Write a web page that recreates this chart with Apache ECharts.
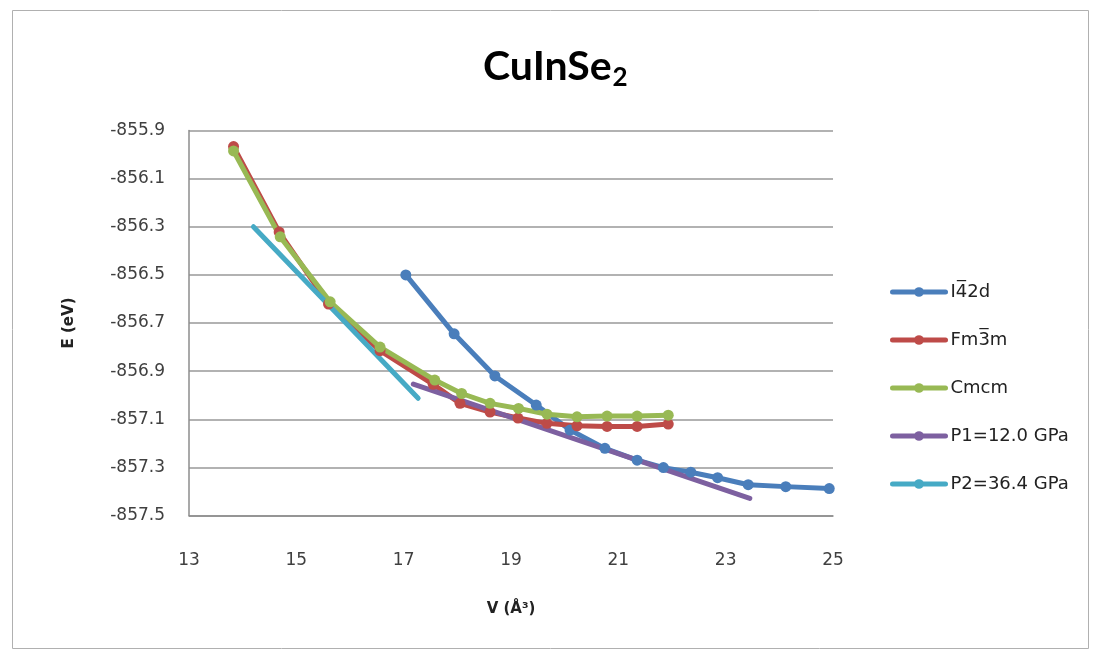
<!DOCTYPE html>
<html><head><meta charset="utf-8">
<script src="https://cdn.jsdelivr.net/npm/echarts@6/dist/echarts.min.js"></script>
<style>html,body{margin:0;padding:0;background:#fff}#c{width:1094px;height:654px}</style>
</head><body><div id="c"></div>
<script>
// ---- data ----
const seriesNames = ['I4\u03052d', 'Fm3\u0305m', 'Cmcm', 'P1=12.0 GPa', 'P2=36.4 GPa'];
const i42dV = [17.04, 17.94, 18.70, 19.47, 20.10, 20.75, 21.35, 21.84, 22.35, 22.85, 23.42, 24.12, 24.93];
const i42dE = [-856.500, -856.745, -856.920, -857.041, -857.145, -857.221, -857.270, -857.301, -857.320, -857.343, -857.372, -857.380, -857.388];
const fm3mV = [13.83, 14.68, 15.60, 16.56, 17.55, 18.05, 18.61, 19.13, 19.67, 20.23, 20.79, 21.35, 21.93];
const fm3mE = [-855.967, -856.322, -856.621, -856.815, -856.955, -857.034, -857.070, -857.095, -857.117, -857.127, -857.130, -857.130, -857.120];
const cmcmV = [13.83, 14.70, 15.63, 16.56, 17.58, 18.08, 18.61, 19.14, 19.67, 20.23, 20.79, 21.35, 21.93];
const cmcmE = [-855.985, -856.342, -856.612, -856.800, -856.937, -856.993, -857.034, -857.055, -857.079, -857.090, -857.087, -857.087, -857.083];
const p1V = [17.18, 23.45];
const p1E = [-856.954, -857.429];
const p2V = [14.20, 17.27];
const p2E = [-856.300, -857.013];
const xTicks = {min: 13, max: 25, step: 2};
const yTicks = {min: -857.5, max: -855.9, step: 0.2};

const colors = ['#4A7EBB', '#BE4B48', '#98B954', '#7D60A0', '#46AAC5'];
const zip = (a, b) => a.map((v, i) => [v, b[i]]);
const labelFont = {fontFamily: 'DejaVu Sans', fontSize: 17, color: '#404040'};

const chart = echarts.init(document.getElementById('c'), null, {renderer: 'canvas'});
const markerSeries = (name, data, color) => ({
  name, type: 'line', data, showSymbol: true, symbol: 'circle', symbolSize: 11,
  lineStyle: {width: 5, color, cap: 'round', join: 'round'}, itemStyle: {color}, animation: false
});
const lineSeries = (name, data, color) => ({
  name, type: 'line', data, showSymbol: false, symbol: 'none',
  lineStyle: {width: 5, color, cap: 'round'}, itemStyle: {color}, animation: false
});

chart.setOption({
  backgroundColor: '#fff',
  animation: false,
  color: colors,
  title: {
    text: '{a|CuInSe}{b|2}',
    left: 478, top: 38,
    textStyle: {
      rich: {
        a: {fontFamily: 'Lato', fontWeight: 'bold', fontSize: 41, color: '#000'},
        b: {fontFamily: 'Lato', fontWeight: 'bold', fontSize: 26, color: '#000', padding: [22, 0, 0, 1]}
      }
    }
  },
  grid: {left: 189, right: 261, top: 130.5, bottom: 138.5, containLabel: false},
  xAxis: {
    type: 'value', min: xTicks.min, max: xTicks.max, interval: xTicks.step,
    name: 'V (\u00C5\u00B3)', nameLocation: 'middle', nameGap: 86,
    nameTextStyle: {fontFamily: 'DejaVu Sans', fontSize: 15, fontWeight: 'bold', color: '#222'},
    axisLine: {show: true, lineStyle: {color: '#8c8c8c', width: 1.5}},
    axisTick: {show: false},
    splitLine: {show: false},
    axisLabel: Object.assign({margin: 37, formatter: v => String(Math.round(v))}, labelFont)
  },
  yAxis: {
    type: 'value', min: yTicks.min, max: yTicks.max, interval: yTicks.step,
    name: 'E (eV)', nameLocation: 'middle', nameGap: 112, nameRotate: 90,
    nameTextStyle: {fontFamily: 'DejaVu Sans', fontSize: 15, fontWeight: 'bold', color: '#222'},
    axisLine: {show: true, lineStyle: {color: '#8c8c8c', width: 1.5}},
    axisTick: {show: false},
    splitLine: {show: true, lineStyle: {color: '#999', width: 1.5}},
    axisLabel: Object.assign({margin: 24, formatter: v => v.toFixed(1)}, labelFont)
  },
  legend: {
    orient: 'vertical', left: 885, top: 277,
    itemWidth: 53, itemHeight: 12, itemGap: 28,
    lineStyle: {width: 5},
    textStyle: {fontFamily: 'DejaVu Sans', fontSize: 18, lineHeight: 20, color: '#222'},
    data: seriesNames
  },
  graphic: [{
    type: 'rect', left: 10, top: 8, silent: true,
    shape: {width: 1076, height: 638},
    style: {fill: 'none', stroke: '#b0b0b0', lineWidth: 1}
  }],
  series: [
    markerSeries(seriesNames[0], zip(i42dV, i42dE), colors[0]),
    markerSeries(seriesNames[1], zip(fm3mV, fm3mE), colors[1]),
    markerSeries(seriesNames[2], zip(cmcmV, cmcmE), colors[2]),
    lineSeries(seriesNames[3], zip(p1V, p1E), colors[3]),
    lineSeries(seriesNames[4], zip(p2V, p2E), colors[4])
  ]
});
</script>
</body></html>
